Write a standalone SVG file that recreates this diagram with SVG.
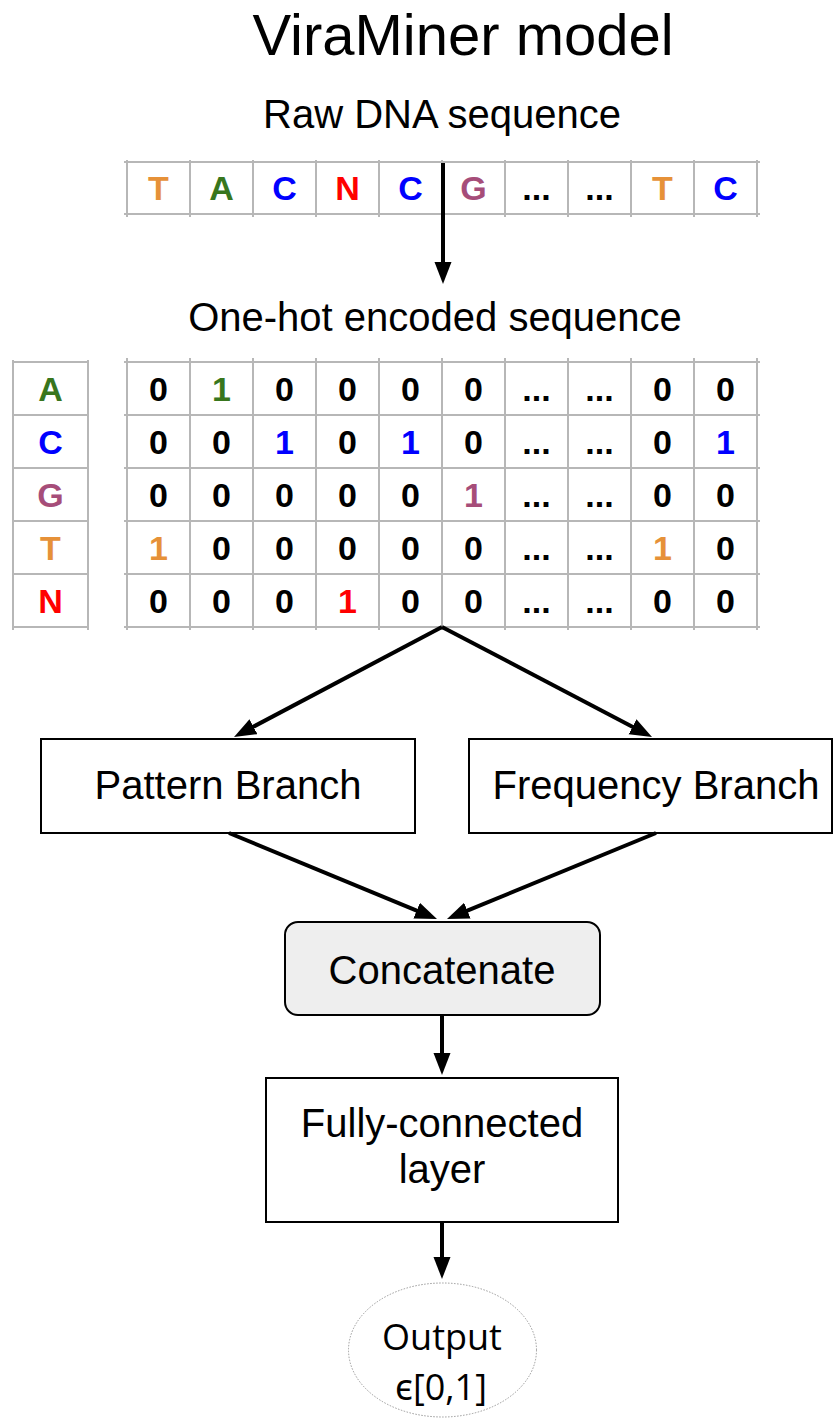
<svg xmlns="http://www.w3.org/2000/svg" width="833" height="1418" viewBox="0 0 833 1418">
<style>
.t{font-family:"Liberation Sans",Arial,sans-serif;fill:#000;text-anchor:middle}
.b{font-family:"Liberation Sans",Arial,sans-serif;font-weight:bold;font-size:34px;text-anchor:middle;fill:#000}
.o{fill:#e69138}.g{fill:#38761d}.c{fill:#0000ff}.r{fill:#ff0000}.p{fill:#a64d79}
.grid{stroke:#b7b7b7;stroke-width:2;fill:none}
.box{fill:#fff;stroke:#000;stroke-width:2}
.arr{stroke:#000;stroke-width:4;fill:none;marker-end:url(#ah)}
</style>
<defs>
<marker id="ah" markerUnits="userSpaceOnUse" markerWidth="24" markerHeight="18" viewBox="0 0 24 18" refX="2" refY="8.5" orient="auto">
<path d="M0,0 L22,8.5 L0,17 z" fill="#000"/>
</marker>
</defs>
<rect width="833" height="1418" fill="#fff"/>
<text class="t" x="463" y="55" font-size="58">ViraMiner model</text>
<text class="t" x="442" y="128" font-size="40">Raw DNA sequence</text>
<text class="t" x="435" y="331" font-size="40">One-hot encoded sequence</text>

<g id="raw-sequence">
<path class="grid" d="M124,162H760M124,214H760M127,160V217M190,160V217M253,160V217M316,160V217M379,160V217M442,160V217M505,160V217M568,160V217M631,160V217M694,160V217M757,160V217"/>
<text class="b o" x="158.5" y="200">T</text>
<text class="b g" x="221.5" y="200">A</text>
<text class="b c" x="284.5" y="200">C</text>
<text class="b r" x="347.5" y="200">N</text>
<text class="b c" x="410.5" y="200">C</text>
<text class="b p" x="473.5" y="200">G</text>
<text class="b" x="536.5" y="200">...</text>
<text class="b" x="599.5" y="200">...</text>
<text class="b o" x="662.5" y="200">T</text>
<text class="b c" x="725.5" y="200">C</text>
</g>

<g id="base-labels">
<path class="grid" d="M13,362H88M13,415H88M13,468H88M13,521H88M13,574H88M13,627H88M13,360V630M88,360V630"/>
<text class="b g" x="50.5" y="401">A</text>
<text class="b c" x="50.5" y="454">C</text>
<text class="b p" x="50.5" y="507">G</text>
<text class="b o" x="50.5" y="560">T</text>
<text class="b r" x="50.5" y="613">N</text>
</g>

<g id="one-hot-matrix">
<path class="grid" d="M124,362H760M124,415H760M124,468H760M124,521H760M124,574H760M124,627H760M127,358V630M190,358V630M253,358V630M316,358V630M379,358V630M442,358V630M505,358V630M568,358V630M631,358V630M694,358V630M757,358V630"/>
<g>
<text class="b" x="158.5" y="401">0</text><text class="b g" x="221.5" y="401">1</text><text class="b" x="284.5" y="401">0</text><text class="b" x="347.5" y="401">0</text><text class="b" x="410.5" y="401">0</text><text class="b" x="473.5" y="401">0</text><text class="b" x="536.5" y="401">...</text><text class="b" x="599.5" y="401">...</text><text class="b" x="662.5" y="401">0</text><text class="b" x="725.5" y="401">0</text>
</g>
<g>
<text class="b" x="158.5" y="454">0</text><text class="b" x="221.5" y="454">0</text><text class="b c" x="284.5" y="454">1</text><text class="b" x="347.5" y="454">0</text><text class="b c" x="410.5" y="454">1</text><text class="b" x="473.5" y="454">0</text><text class="b" x="536.5" y="454">...</text><text class="b" x="599.5" y="454">...</text><text class="b" x="662.5" y="454">0</text><text class="b c" x="725.5" y="454">1</text>
</g>
<g>
<text class="b" x="158.5" y="507">0</text><text class="b" x="221.5" y="507">0</text><text class="b" x="284.5" y="507">0</text><text class="b" x="347.5" y="507">0</text><text class="b" x="410.5" y="507">0</text><text class="b p" x="473.5" y="507">1</text><text class="b" x="536.5" y="507">...</text><text class="b" x="599.5" y="507">...</text><text class="b" x="662.5" y="507">0</text><text class="b" x="725.5" y="507">0</text>
</g>
<g>
<text class="b o" x="158.5" y="560">1</text><text class="b" x="221.5" y="560">0</text><text class="b" x="284.5" y="560">0</text><text class="b" x="347.5" y="560">0</text><text class="b" x="410.5" y="560">0</text><text class="b" x="473.5" y="560">0</text><text class="b" x="536.5" y="560">...</text><text class="b" x="599.5" y="560">...</text><text class="b o" x="662.5" y="560">1</text><text class="b" x="725.5" y="560">0</text>
</g>
<g>
<text class="b" x="158.5" y="613">0</text><text class="b" x="221.5" y="613">0</text><text class="b" x="284.5" y="613">0</text><text class="b r" x="347.5" y="613">1</text><text class="b" x="410.5" y="613">0</text><text class="b" x="473.5" y="613">0</text><text class="b" x="536.5" y="613">...</text><text class="b" x="599.5" y="613">...</text><text class="b" x="662.5" y="613">0</text><text class="b" x="725.5" y="613">0</text>
</g>
</g>

<g id="pattern-branch">
<rect class="box" x="41" y="739" width="374" height="94"/>
<text class="t" x="228" y="799" font-size="40">Pattern Branch</text>
</g>
<g id="frequency-branch">
<rect class="box" x="469" y="739" width="363" height="94"/>
<text class="t" x="656" y="799" font-size="40">Frequency Branch</text>
</g>
<g id="concatenate">
<rect x="285" y="922" width="315" height="93" rx="13" fill="#eeeeee" stroke="#000" stroke-width="2"/>
<text class="t" x="442" y="984" font-size="40">Concatenate</text>
</g>
<g id="fully-connected">
<rect class="box" x="266" y="1078" width="352" height="144"/>
<text class="t" x="442" y="1137" font-size="40">Fully-connected</text>
<text class="t" x="442" y="1183" font-size="40">layer</text>
</g>
<g id="output">
<ellipse cx="442.5" cy="1350" rx="94" ry="67" fill="#fff" stroke="#999" stroke-width="1" stroke-dasharray="1.5,1.5"/>
<text x="442" y="1350" font-family="'Open Sans','Noto Sans',sans-serif" font-size="36" text-anchor="middle">Output</text>
<text x="441" y="1400" font-family="'Open Sans','Noto Sans',sans-serif" font-size="36" text-anchor="middle">ϵ[0,1]</text>
</g>

<g id="connectors">
<line class="arr" x1="443" y1="163" x2="443" y2="264"/>
<line class="arr" x1="442" y1="627" x2="251.7" y2="727.6"/>
<line class="arr" x1="442" y1="627" x2="634.3" y2="727.7"/>
<line class="arr" x1="229" y1="833" x2="418.5" y2="911.4"/>
<line class="arr" x1="656" y1="833" x2="465.5" y2="911.4"/>
<line class="arr" x1="442" y1="1015" x2="442" y2="1055"/>
<line class="arr" x1="442" y1="1222" x2="442" y2="1259"/>
</g>
</svg>
